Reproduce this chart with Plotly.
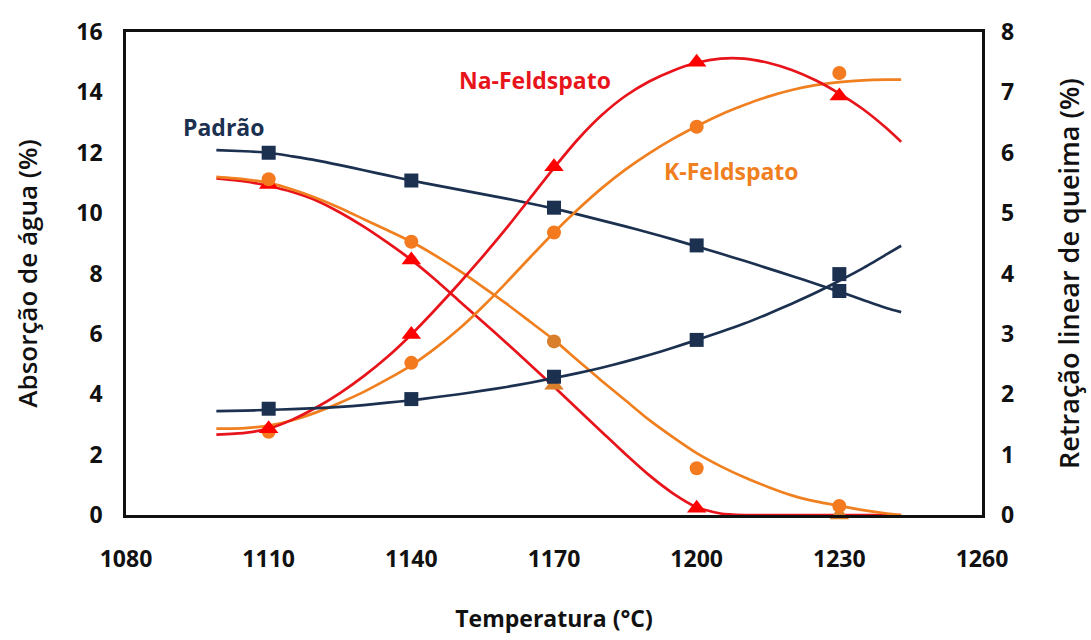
import plotly.graph_objects as go

# ---- measured points ----
T_pts = [1110, 1140, 1170, 1200, 1230]
padrao_abs = [12.0, 11.08, 10.18, 8.93, 7.42]
padrao_ret = [1.76, 1.92, 2.29, 2.90, 3.99]
na_abs = [10.95, 8.45, 4.3, 0.22, 0.0]
na_ret = [1.43, 2.99, 5.77, 7.5, 6.94]
k_abs = [11.12, 9.05, 5.75, 1.55, 0.3]
k_ret = [1.38, 2.52, 4.68, 6.43, 7.32]

# ---- fitted curves ----
T_curve = [1099, 1105, 1110, 1115, 1120, 1125, 1130, 1135, 1140, 1145, 1150, 1155, 1160, 1165, 1170,
           1175, 1180, 1185, 1190, 1195, 1200, 1205, 1210, 1215, 1220, 1225, 1230, 1235, 1240, 1243]
padrao_abs_c = [12.09, 12.05, 12.0, 11.88, 11.75, 11.59, 11.42, 11.25, 11.08, 10.93, 10.78, 10.63, 10.48, 10.32, 10.15,
                9.96, 9.76, 9.56, 9.35, 9.13, 8.9, 8.66, 8.42, 8.17, 7.92, 7.66, 7.4, 7.12, 6.85, 6.72]
padrao_ret_c = [1.72, 1.73, 1.74, 1.755, 1.77, 1.79, 1.82, 1.86, 1.9, 1.95, 2.0, 2.06, 2.12, 2.19, 2.27,
                2.35, 2.44, 2.54, 2.65, 2.77, 2.9, 3.03, 3.17, 3.33, 3.5, 3.68, 3.88, 4.09, 4.32, 4.46]
na_abs_c = [11.15, 11.05, 10.9, 10.7, 10.42, 10.02, 9.55, 9.02, 8.45, 7.8, 7.1, 6.4, 5.7, 4.98, 4.25,
            3.5, 2.76, 2.02, 1.32, 0.72, 0.26, 0.05, 0.0, 0.0, 0.0, 0.0, 0.0, 0.0, 0.0, 0.0]
na_ret_c = [1.33, 1.36, 1.43, 1.58, 1.78, 2.02, 2.3, 2.62, 2.99, 3.4, 3.83, 4.28, 4.75, 5.25, 5.75,
            6.22, 6.62, 6.94, 7.18, 7.36, 7.49, 7.56, 7.56, 7.49, 7.37, 7.2, 6.98, 6.72, 6.4, 6.18]
k_abs_c = [11.2, 11.12, 11.0, 10.78, 10.5, 10.17, 9.8, 9.43, 9.05, 8.6, 8.1, 7.56, 7.0, 6.4, 5.8,
           5.12, 4.45, 3.8, 3.15, 2.58, 2.05, 1.62, 1.25, 0.93, 0.65, 0.45, 0.3, 0.16, 0.05, 0.0]
k_ret_c = [1.43, 1.44, 1.48, 1.57, 1.7, 1.86, 2.04, 2.25, 2.48, 2.76, 3.08, 3.45, 3.85, 4.27, 4.68,
           5.06, 5.41, 5.72, 5.99, 6.23, 6.44, 6.63, 6.79, 6.93, 7.04, 7.12, 7.17, 7.2, 7.21, 7.21]

x_ticks = [1080, 1110, 1140, 1170, 1200, 1230, 1260]

NAVY = "#1C3150"
RED = "#E8141B"
RED_M = "#FF0000"
ORANGE = "#F07F1F"
ORANGE_M = "#F47A20"
BROWN = "#D97E2A"

FONT = "Open Sans"

fig = go.Figure()

def curve(y, color, axis):
    fig.add_trace(go.Scatter(x=T_curve, y=y, mode="lines", yaxis=axis,
                             line=dict(color=color, width=2.7, shape="spline", smoothing=0.6),
                             showlegend=False, hoverinfo="skip"))

def marks(y, color, symbol, size, axis):
    fig.add_trace(go.Scatter(x=T_pts, y=y, mode="markers", yaxis=axis,
                             marker=dict(color=color, symbol=symbol, size=size),
                             cliponaxis=False, showlegend=False))

curve(na_abs_c, RED, "y")
curve(k_abs_c, ORANGE, "y")
curve(padrao_abs_c, NAVY, "y")
curve(k_ret_c, ORANGE, "y2")
curve(na_ret_c, RED, "y2")
curve(padrao_ret_c, NAVY, "y2")

marks(na_abs, [RED_M, RED_M, BROWN, RED_M, BROWN], "triangle-up", 17, "y")
marks(k_abs, [ORANGE_M, ORANGE_M, BROWN, ORANGE_M, ORANGE_M], "circle", 14, "y")
marks(k_ret, ORANGE_M, "circle", 14, "y2")
marks(na_ret, RED_M, "triangle-up", 17, "y2")
marks(padrao_abs, NAVY, "square", 14, "y")
marks(padrao_ret, NAVY, "square", 14, "y2")

ann_font = dict(family=FONT, size=23, weight="bold")
fig.add_annotation(x=1100.4, y=12.85, text="Padrão", showarrow=False,
                   font=dict(color=NAVY, **ann_font), xanchor="center", yanchor="middle")
fig.add_annotation(x=1166.1, y=14.42, text="Na-Feldspato", showarrow=False,
                   font=dict(color=RED, **ann_font), xanchor="center", yanchor="middle")
fig.add_annotation(x=1207.3, y=11.4, text="K-Feldspato", showarrow=False,
                   font=dict(color=ORANGE, **ann_font), xanchor="center", yanchor="middle")

tick_font = dict(family=FONT, size=23, color="#111111", weight="bold")
title_font = dict(family=FONT, size=23, color="#111111", weight="bold")
left_title_font = dict(family=FONT, size=26, color="#111111", weight=600)
right_title_font = dict(family=FONT, size=27, color="#111111", weight=600)

fig.update_layout(
    width=1091, height=640,
    margin=dict(l=126, r=108, t=32, b=121),
    plot_bgcolor="white", paper_bgcolor="white",
    xaxis=dict(range=[1080, 1260], tickvals=x_ticks, ticks="", showgrid=False, zeroline=False,
               showline=True, linecolor="#111111", linewidth=2.5, mirror=True,
               tickfont=tick_font, ticklabelstandoff=22,
               title=dict(text="Temperatura (°C)", font=title_font, standoff=38)),
    yaxis=dict(range=[0, 16], dtick=2, ticks="", showgrid=False, zeroline=False,
               showline=True, linecolor="#111111", linewidth=2.5, mirror=True,
               tickfont=tick_font, ticklabelstandoff=16,
               title=dict(text="Absorção de água (%)", font=left_title_font, standoff=32)),
    yaxis2=dict(range=[0, 8], dtick=1, ticks="", showgrid=False, zeroline=False,
                overlaying="y", side="right", showline=False,
                tickfont=tick_font, ticklabelstandoff=18,
                title=dict(text="Retração linear de queima (%)", font=right_title_font, standoff=46)),
)

fig.write_html("out.html")
